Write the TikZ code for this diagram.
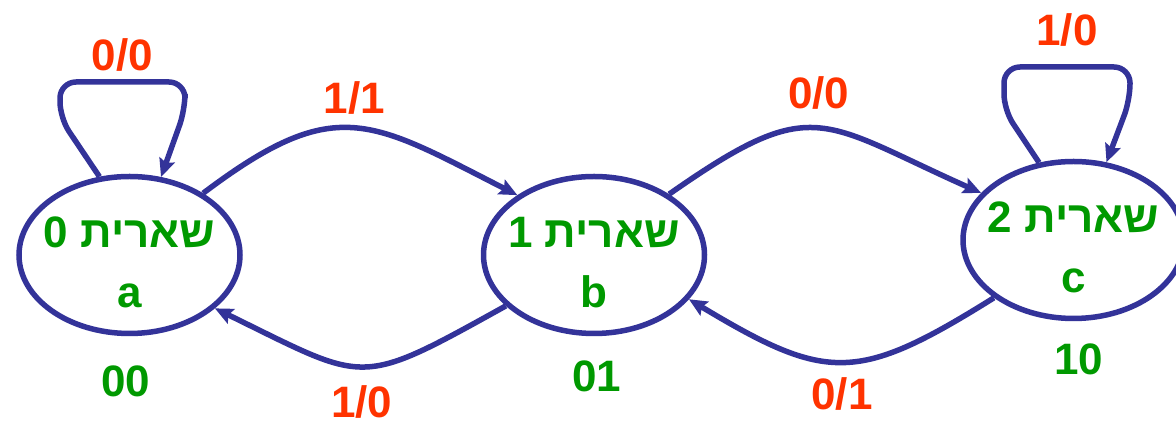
\documentclass[tikz,border=0pt]{standalone}
\usepackage{fontspec}
\setmainfont{Liberation Sans}
\newfontfamily\hebfont[Script=Hebrew]{Liberation Sans}
\TeXXeTstate=1
\usetikzlibrary{positioning,shapes.geometric,arrows.meta}
\definecolor{edgeblue}{HTML}{333399}
\definecolor{outred}{HTML}{FF3300}
\definecolor{stategreen}{HTML}{009900}

\begin{document}
\begin{tikzpicture}[x=1pt, y=1pt, ->, >={Stealth[length=18pt,width=16pt,inset=3pt]},
    state/.style={ellipse, draw=edgeblue, line width=5.5pt, inner xsep=-20pt, inner ysep=0pt,
        minimum width=221pt, minimum height=157pt,
        text=stategreen, align=center, font=\bfseries\fontsize{44}{60}\selectfont},
    trans/.style={draw=edgeblue, line width=5.5pt},
    code/.style={inner sep=0pt, outer sep=0pt, text=stategreen, font=\bfseries\fontsize{44}{55}\selectfont},
    lbl/.style={inner sep=0pt, outer sep=0pt, text=outred, font=\bfseries\fontsize{44}{55}\selectfont}]
    \useasboundingbox (0,0) rectangle (1176,427);

    \node[state] (a) at (129.5,172) {\rule{0pt}{46pt}{\hebfont\beginR שארית 0\endR}\\a};
    \node[state, right=238pt of a] (b) {\rule{0pt}{46pt}{\hebfont\beginR שארית 1\endR}\\b};
    \node[state, right=253pt of b, yshift=15pt] (c) {\rule{0pt}{46pt}{\hebfont\beginR שארית 2\endR}\\c};

    \node[code, below=30pt of a, xshift=-4pt] (qa) {00};
    \node[code, below=25pt of b, xshift=2.5pt] (qb) {01};
    \node[code, below=23pt of c, xshift=5pt] (qc) {10};

    \path
    (a.40) edge [trans, out=37, in=153, looseness=1.35] node[lbl, above=14pt] {1/1} (b.142)
    (b.210) edge [trans, out=209, in=334, looseness=1.5] node[lbl, below=19pt] {1/0} (a.328)
    (b.39) edge [trans, out=35, in=156, looseness=1.45] node[lbl, above=19pt] {0/0} (c.153)
    (c.216) edge [trans, out=212, in=329, looseness=1.35] node[lbl, below=16pt] {0/1} (b.335);

    % self loops
    \draw[trans, rounded corners=16pt] (a.111) -- (60,309) -- (60,345)
        -- node[lbl, above=11pt] {0/0} (185,345) -- (185,317) -- (a.68);
    \draw[trans, rounded corners=16pt] (c.114) -- (1004,317) -- (1004,360)
        -- node[lbl, above=21pt] {1/0} (1130,360) -- (1130,327) -- (c.67);
\end{tikzpicture}
\end{document}
